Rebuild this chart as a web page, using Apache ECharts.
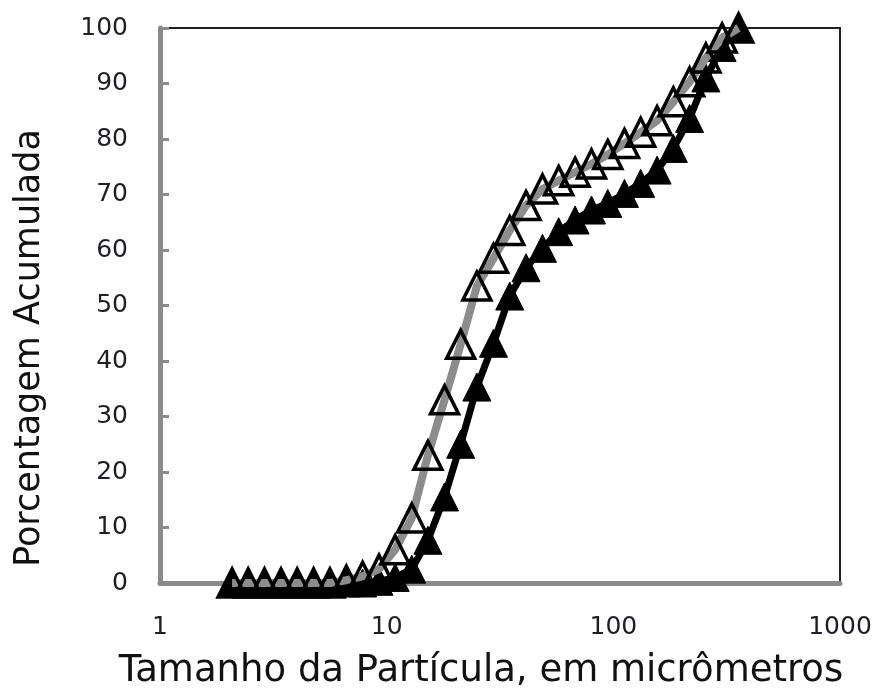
<!DOCTYPE html>
<html>
<head>
<meta charset="utf-8">
<script src="https://cdn.jsdelivr.net/npm/echarts@6/dist/echarts.min.js"></script>
<style>
  html, body { margin: 0; padding: 0; background: #fff; }
  #chart { width: 878px; height: 692px; }
</style>
</head>
<body>
<div id="chart"></div>
<script>
// Particle size classes (micrometres, log-spaced)
const particleSize = [2.08, 2.45, 2.89, 3.42, 4.03, 4.76, 5.62, 6.64, 7.83, 9.25,
  10.9, 12.9, 15.2, 18.0, 21.2, 25.0, 29.6, 34.9, 41.2, 48.7,
  57.4, 67.8, 80.1, 94.5, 112, 132, 156, 184, 217, 256, 302, 357];

// Cumulative percentage, open-triangle sample
const cumulativeOpen = [0, 0, 0, 0, 0, 0, 0, 0.5, 1.2, 2.5,
  6, 11.7, 23, 33, 43, 53.5, 58.5, 63.5, 68, 71,
  72.5, 74, 75.5, 77.2, 79.2, 81.2, 83.3, 86.7, 90.3, 94.6, 98.2, 100];

// Cumulative percentage, filled-triangle sample
const cumulativeFilled = [0, 0, 0, 0, 0, 0, 0, 0, 0, 0.3,
  1.0, 2.5, 7.7, 15.5, 25, 35.3, 43.2, 51.7, 56.8, 60.3,
  63.3, 65.4, 67.2, 68.4, 70.2, 72, 74.4, 78.3, 83.7, 91, 96.5, 100];

const xTicks = [1, 10, 100, 1000];
const yTicks = [0, 10, 20, 30, 40, 50, 60, 70, 80, 90, 100];

const xTitle = 'Tamanho da Partícula, em micrômetros';
const yTitle = 'Porcentagem Acumulada';

const pairs = (xs, ys) => xs.map((x, i) => [x, ys[i]]);

const labelFont = { fontFamily: 'DejaVu Sans', fontSize: 25, color: '#1e1e28' };

const chart = echarts.init(document.getElementById('chart'), null, { renderer: 'canvas' });
chart.setOption({
  animation: false,
  backgroundColor: '#fff',
  grid: {
    left: 160, top: 28, width: 680, height: 555,
    show: true, borderColor: '#222', borderWidth: 2, backgroundColor: 'transparent'
  },
  xAxis: {
    type: 'log', logBase: 10, min: xTicks[0], max: xTicks[xTicks.length - 1],
    axisLine: { show: true, lineStyle: { color: '#8a8a8a', width: 5 } },
    axisTick: { show: false },
    splitLine: { show: false },
    minorTick: { show: false },
    axisLabel: Object.assign({ margin: 32, formatter: v => String(v) }, labelFont)
  },
  yAxis: {
    type: 'value', min: yTicks[0], max: yTicks[yTicks.length - 1], interval: 10,
    axisLine: { show: true, lineStyle: { color: '#8a8a8a', width: 5 } },
    axisTick: { show: true, inside: true, length: 9, lineStyle: { color: '#8a8a8a', width: 3 } },
    splitLine: { show: false },
    axisLabel: Object.assign({ margin: 32 }, labelFont)
  },
  graphic: [
    {
      type: 'text', x: 481, y: 671,
      style: { text: xTitle, font: '37px "DejaVu Sans"', fill: '#111', align: 'center', verticalAlign: 'middle' }
    },
    {
      type: 'text', x: 30, y: 348, rotation: Math.PI / 2,
      style: { text: yTitle, font: '35px "DejaVu Sans"', fill: '#111', align: 'center', verticalAlign: 'middle' }
    }
  ],
  series: [
    {
      type: 'line',
      data: pairs(particleSize, cumulativeFilled),
      symbol: 'triangle', symbolSize: 28,
      lineStyle: { color: '#000', width: 7 },
      itemStyle: { color: '#000', borderColor: '#000', borderWidth: 1 },
      clip: false, z: 2
    },
    {
      type: 'line',
      data: pairs(particleSize, cumulativeOpen),
      symbol: 'triangle', symbolSize: 28,
      lineStyle: { color: '#8c8c8c', width: 8 },
      itemStyle: { color: 'rgba(255,255,255,0)', borderColor: '#000', borderWidth: 3.5 },
      clip: false, z: 3
    }
  ]
});
</script>
</body>
</html>
